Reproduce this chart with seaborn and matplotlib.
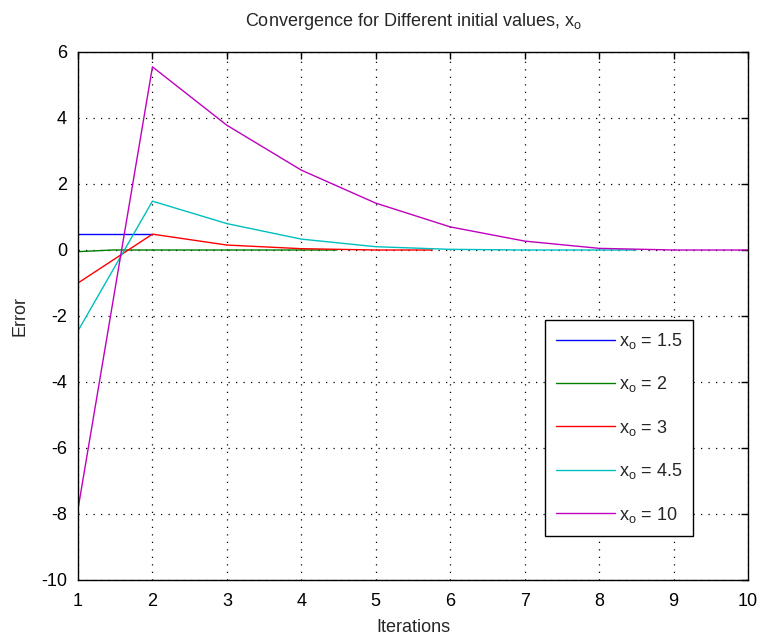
import numpy as np
import pandas as pd
import matplotlib
matplotlib.use("Agg")
import matplotlib.pyplot as plt
import seaborn as sns

# ---- data ----
labels = [r"x$_\mathrm{o}$ = 1.5", r"x$_\mathrm{o}$ = 2", r"x$_\mathrm{o}$ = 3",
          r"x$_\mathrm{o}$ = 4.5", r"x$_\mathrm{o}$ = 10"]
colors = ["#0000ff", "#008000", "#ff0000", "#00bfbf", "#bf00bf"]

x_15 = [1, 2]
e_15 = [0.48, 0.48]

x_2 = [1, 1.47, 4.48]
e_2 = [-0.05, 0.0, 0.0]

x_3 = [1, 2, 3, 4, 5, 5.76]
e_3 = [-1.0, 0.48, 0.15, 0.04, 0.0, 0.0]

x_45 = [1, 2, 3, 4, 5, 6, 7, 8, 8.5]
e_45 = [-2.45, 1.48, 0.8, 0.33, 0.1, 0.02, 0.0, 0.0, 0.0]

x_10 = [1, 2, 3, 4, 5, 6, 7, 8, 9, 10]
e_10 = [-7.85, 5.55, 3.78, 2.42, 1.42, 0.7, 0.27, 0.05, 0.0, 0.0]

xs = [x_15, x_2, x_3, x_45, x_10]
es = [e_15, e_2, e_3, e_45, e_10]

frames = []
for lab, x, e in zip(labels, xs, es):
    frames.append(pd.DataFrame({"Iterations": x, "Error": e, "series": lab}))
df = pd.concat(frames, ignore_index=True)

sns.set_style("white")
plt.rcParams["font.family"] = ["Liberation Sans", "DejaVu Sans"]
plt.rcParams["mathtext.fontset"] = "custom"
plt.rcParams["mathtext.rm"] = "Liberation Sans"
plt.rcParams["mathtext.it"] = "Liberation Sans"
plt.rcParams["axes.unicode_minus"] = False

FS = 13

fig = plt.figure(figsize=(7.6, 6.4), dpi=100)
ax = fig.add_axes([78 / 760, 1 - 580 / 640, 670 / 760, 528 / 640])

sns.lineplot(data=df, x="Iterations", y="Error", hue="series", hue_order=labels,
             palette=colors, estimator=None, sort=False, units="series",
             linewidth=1.0, ax=ax, legend=True)

ax.set_xlim(1, 10)
ax.set_ylim(-10, 6)
ax.set_xticks(np.arange(1, 11))
ax.set_yticks(np.arange(-10, 7, 2))
ax.grid(True, color="black", linestyle=(0, (1, 5)), linewidth=0.9)
for s in ax.spines.values():
    s.set_visible(True)
    s.set_color("black")
    s.set_linewidth(1.0)
ax.tick_params(direction="in", length=5, width=1, top=True, right=True,
               labelsize=FS, colors="black")
ax.tick_params(axis="x", pad=9)
ax.tick_params(axis="y", pad=8)
ax.set_xlabel("Iterations", fontsize=FS, labelpad=7)
ax.set_ylabel("Error", fontsize=FS, labelpad=9)
ax.set_title(r"Convergence for Different initial values, x$_\mathrm{o}$",
             fontsize=FS, pad=19)

handles, labs = ax.get_legend_handles_labels()
leg = ax.legend(handles, labs, loc="upper left",
                bbox_to_anchor=((545 - 78) / 670, (580 - 320) / 528),
                fontsize=FS, frameon=True, fancybox=False, framealpha=1,
                edgecolor="black", labelspacing=1.3, handlelength=3.3,
                handletextpad=0.2, borderpad=0.6, borderaxespad=0)
leg.get_frame().set_linewidth(1.0)

fig.savefig("out.png", dpi=100, facecolor="white")
